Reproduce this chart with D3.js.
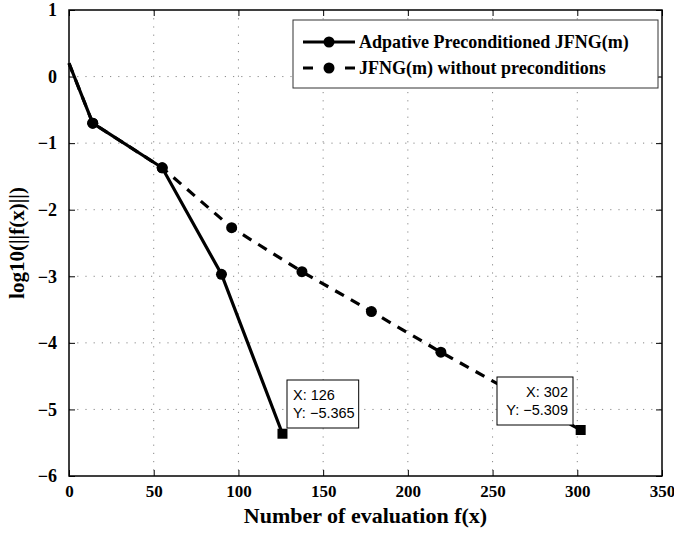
<!DOCTYPE html>
<meta charset="utf-8">
<style>
    body{ margin:0; background:#fff; }
    svg text{ font-family:"Liberation Serif","Times New Roman",serif; }
    .tick text{ font-weight:bold; font-size:18px; }
    .xax .tick text{ font-size:17px; }
    .tip text{ font-family:"Liberation Sans",Arial,sans-serif; font-size:14.5px; }
</style>
<script src="https://d3js.org/d3.v7.min.js"></script>
<body>
<div id="chart"></div>
<script>
    // series
    var adaptX = [0, 14, 55, 90, 126];
    var adaptY = [0.2, -0.7, -1.37, -2.97, -5.365];
    var plainX = [0, 14, 55, 96, 137.5, 178.5, 219.5, 302];
    var plainY = [0.2, -0.7, -1.37, -2.27, -2.93, -3.53, -4.14, -5.309];
    var xTicks = [0, 50, 100, 150, 200, 250, 300, 350];
    var yTicks = [1, 0, -1, -2, -3, -4, -5, -6];
    var legendNames = ["Adpative Preconditioned JFNG(m)", "JFNG(m) without preconditions"];
    var tipLabels = [["X: 126", "Y: \u22125.365"], ["X: 302", "Y: \u22125.309"]];

    var W = 674, H = 534;
    var pL = 69, pR = 662, pT = 10, pB = 476;

    var svg = d3.select("#chart").append("svg")
        .attr("width", W).attr("height", H);

    var x = d3.scaleLinear().domain([0, 350]).range([pL, pR]);
    var y = d3.scaleLinear().domain([-6, 1]).range([pB, pT]);

    // dotted grid
    var grid = svg.append("g");
    grid.selectAll(".gx").data(xTicks.slice(1, -1)).enter().append("line")
        .attr("x1", d => x(d)).attr("x2", d => x(d))
        .attr("y1", pT).attr("y2", pB)
        .attr("stroke", "#888").attr("stroke-width", 1).attr("stroke-dasharray", "1.2,7");
    grid.selectAll(".gy").data(yTicks.slice(1, -1)).enter().append("line")
        .attr("y1", d => y(d)).attr("y2", d => y(d))
        .attr("x1", pL).attr("x2", pR)
        .attr("stroke", "#888").attr("stroke-width", 1).attr("stroke-dasharray", "1.2,7");

    function fmt(d){ return d < 0 ? "\u2212" + Math.abs(d) : String(d); }

    // axes, ticks pointing in
    var xAxis = svg.append("g").attr("class", "xax").attr("transform", "translate(0," + pB + ")")
        .call(d3.axisBottom(x).tickValues(xTicks).tickFormat(fmt).tickSizeInner(-6).tickSizeOuter(0).tickPadding(6));
    var yAxis = svg.append("g").attr("transform", "translate(" + pL + ",0)")
        .call(d3.axisLeft(y).tickValues(yTicks).tickFormat(fmt).tickSizeInner(-6).tickSizeOuter(0).tickPadding(12));
    svg.append("g").attr("transform", "translate(0," + pT + ")")
        .call(d3.axisTop(x).tickValues(xTicks).tickFormat("").tickSizeInner(-6).tickSizeOuter(0));
    svg.append("g").attr("transform", "translate(" + pR + ",0)")
        .call(d3.axisRight(y).tickValues(yTicks).tickFormat("").tickSizeInner(-6).tickSizeOuter(0));
    svg.selectAll(".domain").remove();
    svg.selectAll(".tick line").attr("stroke", "#000").attr("stroke-width", 1);
    xAxis.selectAll(".tick text").attr("fill", "#000").attr("dy", "0.9em");
    yAxis.selectAll(".tick text").attr("fill", "#000");

    svg.append("rect").attr("x", pL).attr("y", pT)
        .attr("width", pR - pL).attr("height", pB - pT)
        .attr("fill", "none").attr("stroke", "#000").attr("stroke-width", 1.5);

    // axis titles
    svg.append("text").attr("x", (pL + pR) / 2).attr("y", 523)
        .attr("text-anchor", "middle").attr("font-weight", "bold").attr("font-size", 22)
        .text("Number of evaluation f(x)");
    svg.append("text").attr("transform", "translate(24," + ((pT + pB) / 2) + ") rotate(-90)")
        .attr("text-anchor", "middle").attr("font-weight", "bold").attr("font-size", 21)
        .text("log10(||f(x)||)");

    // series
    var line = d3.line().x(d => x(d[0])).y(d => y(d[1]));
    var adapt = adaptX.map((v, i) => [v, adaptY[i]]);
    var plain = plainX.map((v, i) => [v, plainY[i]]);

    function drawSeries(pts, dash){
        svg.append("path").datum(pts).attr("d", line)
            .attr("fill", "none").attr("stroke", "#000").attr("stroke-width", 3.2)
            .attr("stroke-dasharray", dash);
        svg.append("g").selectAll("circle").data(pts.slice(1, -1)).enter().append("circle")
            .attr("cx", d => x(d[0])).attr("cy", d => y(d[1])).attr("r", 5.5).attr("fill", "#000");
    }
    drawSeries(adapt, null);
    drawSeries(plain, "10,8");

    // data tips
    var tips = [
        {pt: adapt[adapt.length - 1], lab: tipLabels[0], bx: 287, by: 380, bw: 50, anchor: "start"},
        {pt: plain[plain.length - 1], lab: tipLabels[1], bx: 497, by: 377, bw: 76, anchor: "end"}
    ];
    tips.forEach(function(t){
        var g = svg.append("g").attr("class", "tip");
        var box = g.append("rect").attr("x", t.bx).attr("y", t.by).attr("width", t.bw).attr("height", 48)
            .attr("fill", "#fff").attr("stroke", "#000").attr("stroke-width", 1);
        var tx = t.anchor === "start" ? t.bx + 6 : t.bx + t.bw - 5;
        var lens = t.lab.map(function(s, i){
            var tt = g.append("text").attr("x", tx).attr("y", t.by + 20 + i * 18)
                .attr("text-anchor", t.anchor).attr("fill", "#000").text(s);
            return tt.node().getComputedTextLength();
        });
        if (t.anchor === "start") box.attr("width", Math.max(t.bw, d3.max(lens) + 10));
        g.append("rect").attr("x", x(t.pt[0]) - 5).attr("y", y(t.pt[1]) - 5)
            .attr("width", 10).attr("height", 10).attr("fill", "#000");
    });

    // legend
    var lg = svg.append("g");
    lg.append("rect").attr("x", 293).attr("y", 20).attr("width", 365).attr("height", 68)
        .attr("fill", "#fff").attr("stroke", "#333").attr("stroke-width", 1);
    legendNames.forEach(function(name, i){
        var ly = 42 + i * 26;
        lg.append("line").attr("x1", 303).attr("x2", 355).attr("y1", ly).attr("y2", ly)
            .attr("stroke", "#000").attr("stroke-width", 3.2)
            .attr("stroke-dasharray", i === 1 ? "10,32" : null);
        lg.append("circle").attr("cx", 329).attr("cy", ly).attr("r", 5.5).attr("fill", "#000");
        lg.append("text").attr("x", 359).attr("y", ly + 6)
            .attr("font-weight", "bold").attr("font-size", 18).attr("fill", "#000").text(name);
    });
</script>
</body>
